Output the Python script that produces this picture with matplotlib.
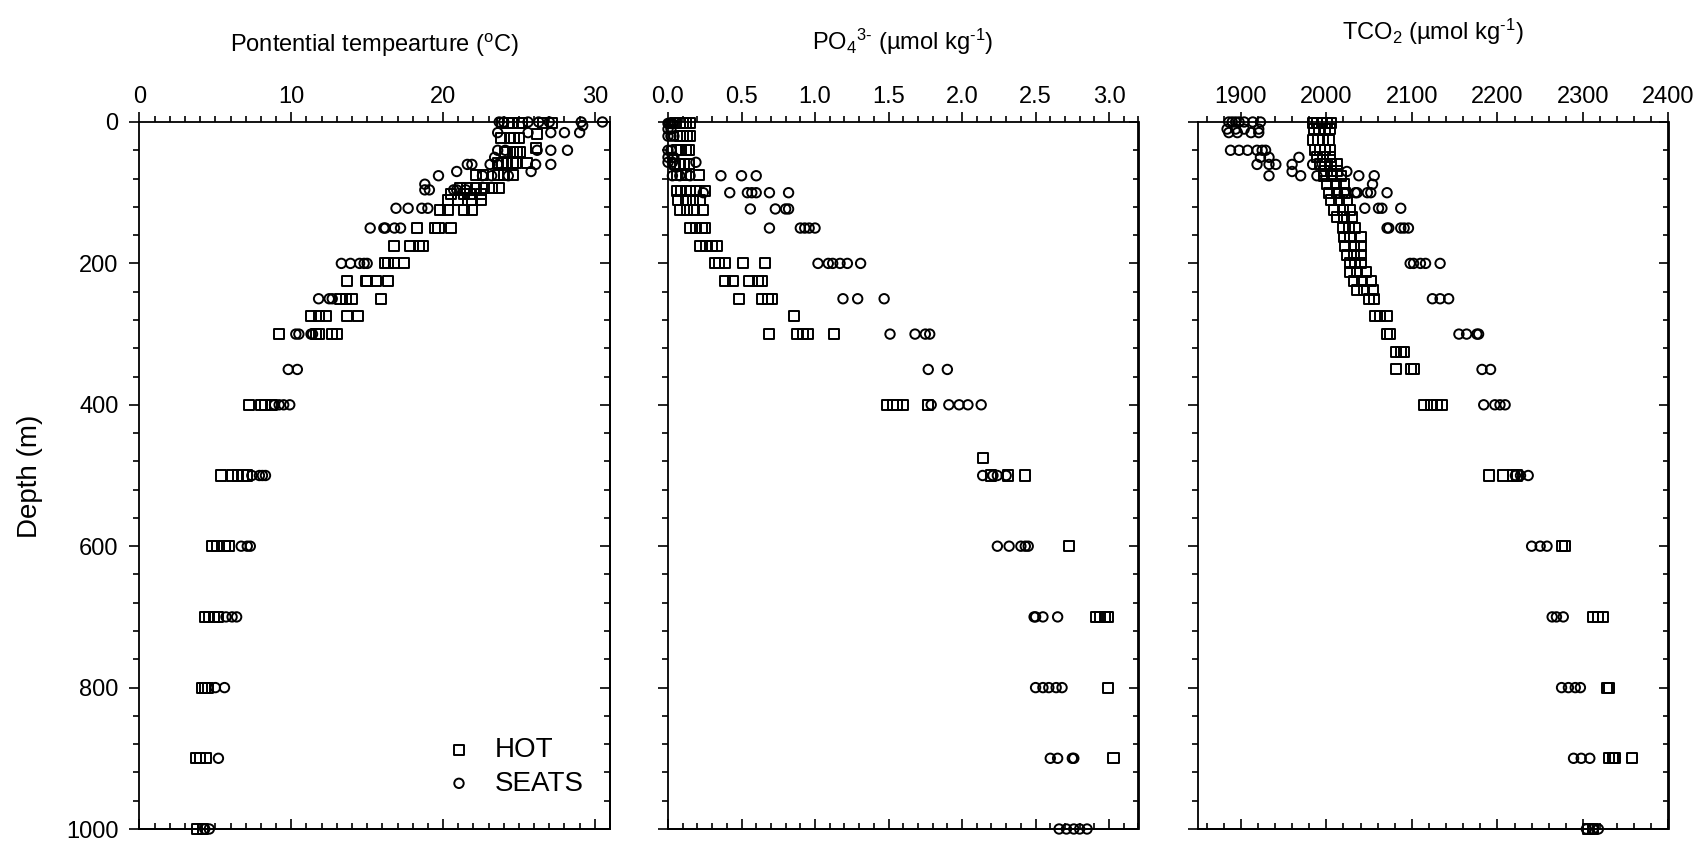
import matplotlib
matplotlib.use("Agg")
import matplotlib.pyplot as plt
from matplotlib.ticker import MultipleLocator

plt.rcParams['font.family'] = ['Liberation Sans', 'DejaVu Sans']
plt.rcParams['mathtext.fontset'] = 'custom'
plt.rcParams['mathtext.rm'] = 'Liberation Sans'
plt.rcParams['mathtext.it'] = 'Liberation Sans:italic'

# --- potential temperature (degC), grouped by depth (m) ---
temp_hot_depth = [2, 17, 22, 37, 43, 58, 75, 93, 102, 110, 125, 150, 175, 200,
                  225, 250, 275, 300, 400, 500, 600, 700, 800, 900, 1000]
temp_hot = [[23.9, 24.3, 24.6, 25.0, 25.2, 26.6, 27.2], [26.2], [23.8, 24.4, 24.7, 25.0],
            [26.1], [24.1, 24.6, 24.9, 25.1], [23.6, 23.9, 24.2, 24.6, 24.8, 25.5],
            [22.2, 22.6, 23.6, 24.0, 24.6], [21.1, 21.6, 22.2, 22.7, 23.2, 23.7],
            [20.5, 21.4, 21.8, 22.5], [20.3, 21.0, 21.9, 22.5], [19.8, 20.3, 21.4, 21.9],
            [18.3, 19.5, 19.7, 20.5], [16.8, 17.8, 18.4, 18.7], [16.2, 16.4, 16.8, 17.4],
            [13.7, 14.9, 15.0, 15.6, 16.4], [13.2, 13.6, 14.0, 15.9],
            [11.3, 11.8, 12.3, 13.7, 14.4], [9.2, 11.6, 11.8, 12.7, 13.0],
            [7.2, 8.0, 8.3, 8.7], [5.4, 6.1, 6.5, 6.8, 7.1], [4.8, 5.1, 5.6, 5.9],
            [4.3, 4.6, 4.9, 5.2], [4.1, 4.3, 4.5], [3.7, 4.0, 4.4], [3.8, 4.2]]
temp_seats_depth = [0, 5, 15, 40, 50, 60, 70, 76, 88, 96, 122, 150, 200, 250,
                    300, 350, 400, 500, 600, 700, 800, 900, 1000]
temp_seats = [[23.7, 24.0, 25.6, 26.3, 27.0, 29.1, 30.5], [29.2], [23.6, 25.6, 27.1, 28.0, 29.0],
              [23.6, 24.1, 26.2, 27.1, 28.2], [23.4], [21.6, 21.9, 23.1, 23.6, 26.1, 27.1],
              [20.9, 25.8], [19.7, 22.6, 23.2, 24.3], [18.8], [18.8, 19.1, 20.7, 20.9, 21.5],
              [16.9, 17.7, 18.6, 19.0], [15.2, 16.1, 16.2, 16.8, 17.2],
              [13.3, 13.9, 14.5, 14.8, 15.0], [11.8, 12.5, 12.7], [10.3, 10.5, 11.3, 11.4],
              [9.8, 10.4], [8.9, 9.2, 9.5, 9.9], [7.4, 7.9, 8.1, 8.3], [6.7, 7.1, 7.3],
              [5.7, 6.1, 6.4], [5.0, 5.6], [5.2], [4.3, 4.6]]

# --- phosphate (umol/kg) ---
po4_hot_depth = [2, 20, 40, 60, 75, 97, 110, 125, 150, 175, 200, 225, 250, 275,
                 300, 400, 475, 500, 600, 700, 800, 900]
po4_hot = [[0.05, 0.08, 0.10, 0.12, 0.15], [0.08, 0.10, 0.13, 0.15], [0.06, 0.09, 0.12, 0.14],
           [0.05, 0.08, 0.11, 0.14], [0.06, 0.09, 0.12, 0.21],
           [0.06, 0.09, 0.12, 0.15, 0.19, 0.25], [0.07, 0.12, 0.17, 0.22],
           [0.08, 0.13, 0.18, 0.24], [0.15, 0.19, 0.23, 0.25], [0.22, 0.26, 0.30, 0.33],
           [0.32, 0.35, 0.39, 0.51, 0.66], [0.39, 0.44, 0.55, 0.61, 0.64],
           [0.48, 0.64, 0.68, 0.71], [0.86], [0.69, 0.88, 0.92, 0.95, 1.13],
           [1.49, 1.53, 1.56, 1.60, 1.77], [2.14], [2.20, 2.31, 2.43], [2.73],
           [2.91, 2.94, 2.97, 2.99], [2.99], [3.03]]
po4_seats_depth = [2, 10, 20, 40, 50, 57, 76, 100, 123, 150, 200, 250, 300, 350,
                   400, 500, 600, 700, 800, 900, 1000]
po4_seats = [[0.0, 0.01, 0.02, 0.03], [0.0, 0.02], [0.0, 0.02, 0.04], [0.0, 0.02],
             [0.0, 0.03, 0.04], [0.0, 0.03, 0.19], [0.03, 0.08, 0.15, 0.36, 0.50, 0.60],
             [0.24, 0.42, 0.54, 0.57, 0.60, 0.69, 0.82], [0.56, 0.73, 0.80, 0.82],
             [0.69, 0.90, 0.93, 0.96, 1.00], [1.02, 1.09, 1.12, 1.17, 1.22, 1.31],
             [1.19, 1.29, 1.47], [1.51, 1.68, 1.75, 1.78], [1.77, 1.90],
             [1.79, 1.91, 1.98, 2.04, 2.13], [2.14, 2.21, 2.24, 2.30],
             [2.24, 2.32, 2.40, 2.43, 2.45], [2.49, 2.50, 2.55, 2.65],
             [2.50, 2.55, 2.59, 2.64, 2.68], [2.60, 2.65, 2.75, 2.76],
             [2.66, 2.71, 2.76, 2.80, 2.85]]

# --- total CO2 (umol/kg) ---
tco2_hot_depth = [2, 10, 25, 40, 50, 60, 70, 76, 88, 100, 110, 125, 135, 150, 163,
                  175, 188, 200, 212, 225, 237, 250, 275, 300, 325, 350, 400, 500,
                  600, 700, 800, 900, 1000]
tco2_hot = [[1984, 1989, 1995, 2001, 2005], [1986, 1992, 1998, 2004], [1984, 1990, 1996, 2003],
            [1987, 1993, 1999, 2004], [1989, 1996, 2004], [1993, 1999, 2005, 2013],
            [1997, 2005, 2013], [1997, 2007, 2017], [2001, 2011, 2021], [2003, 2013, 2022],
            [2005, 2015, 2024], [2009, 2019, 2028], [2013, 2021, 2030], [2019, 2026, 2034],
            [2021, 2028, 2040], [2022, 2032, 2040], [2024, 2032, 2040], [2028, 2034, 2040],
            [2028, 2036, 2046], [2032, 2042, 2052], [2036, 2044, 2054], [2050, 2056],
            [2057, 2063, 2071], [2071, 2075], [2082, 2087, 2091], [2082, 2099, 2103],
            [2114, 2122, 2129, 2135], [2190, 2206, 2218, 2223], [2275, 2279],
            [2312, 2318, 2324], [2328, 2330], [2331, 2335, 2337, 2357], [2306, 2312]]
tco2_seats_depth = [0, 10, 15, 40, 50, 60, 70, 76, 88, 100, 122, 150, 200, 250, 300,
                    350, 400, 500, 600, 700, 800, 900, 1000]
tco2_seats = [[1886, 1890, 1894, 1898, 1904, 1914, 1923], [1884, 1894, 1904, 1921],
              [1886, 1896, 1912, 1921], [1888, 1898, 1908, 1919, 1925, 1929],
              [1923, 1933, 1968], [1919, 1933, 1941, 1960, 1984], [1960, 2024],
              [1933, 1970, 1989, 2038, 2056], [2054],
              [2013, 2021, 2034, 2036, 2048, 2052, 2071], [2045, 2061, 2065, 2087],
              [2071, 2073, 2087, 2091, 2096], [2098, 2102, 2110, 2116, 2133],
              [2124, 2133, 2143], [2155, 2164, 2176, 2178], [2182, 2192],
              [2184, 2197, 2203, 2209], [2221, 2227, 2236], [2240, 2250, 2258],
              [2264, 2269, 2277], [2275, 2283, 2291, 2297], [2289, 2298, 2308],
              [2304, 2312, 2318]]


def flat(depths, groups):
    d, v = [], []
    for z, vals in zip(depths, groups):
        d += [z] * len(vals)
        v += vals
    return d, v


panels = [
    (flat(temp_hot_depth, temp_hot), flat(temp_seats_depth, temp_seats),
     (0, 31), 10, 1, r'Pontential tempearture ($^{\mathrm{o}}$C)', 52),
    (flat(po4_hot_depth, po4_hot), flat(po4_seats_depth, po4_seats),
     (0, 3.2), 0.5, 0.1, r'PO$_4$$^{\text{3-}}$ (µmol kg$^{\text{-1}}$)', 50),
    (flat(tco2_hot_depth, tco2_hot), flat(tco2_seats_depth, tco2_seats),
     (1850, 2400), 100, 20, r'TCO$_2$ (µmol kg$^{\text{-1}}$)', 40),
]
lefts = [139.5, 668, 1198]
W, H = 1706, 844

fig = plt.figure(figsize=(W / 100, H / 100), dpi=100)
axes = []
for i, (hot, seats, xlim, major, minor, title, base_y) in enumerate(panels):
    ax = fig.add_axes([lefts[i] / W, 1 - 829 / H, 470.5 / W, 707 / H])
    ax.scatter(hot[1], hot[0], marker='s', s=52, facecolors='none',
               edgecolors='k', linewidths=1.4, clip_on=False, label='HOT', zorder=3)
    ax.scatter(seats[1], seats[0], marker='o', s=46, facecolors='none',
               edgecolors='k', linewidths=1.4, clip_on=False, label='SEATS', zorder=3)
    ax.set_xlim(*xlim)
    ax.set_ylim(1000, 0)
    for sp in ax.spines.values():
        sp.set_linewidth(1.3)

    ax.xaxis.set_major_locator(MultipleLocator(major))
    ax.xaxis.set_minor_locator(MultipleLocator(minor))
    ax.yaxis.set_major_locator(MultipleLocator(200))
    ax.yaxis.set_minor_locator(MultipleLocator(40))
    if i == 1:
        ax.xaxis.set_major_formatter(lambda x, p: f'{x:.1f}')
    ax.tick_params(axis='x', which='both', top=True, bottom=False, labeltop=True,
                   labelbottom=False, direction='out', labelsize=17, pad=3)
    ax.tick_params(axis='y', which='both', left=True, right=False, direction='out',
                   labelleft=(i == 0), labelsize=17, pad=8)
    ax.tick_params(which='major', length=7, width=1.2)
    ax.tick_params(which='minor', length=4, width=1.2)

    # mirrored ticks pointing inwards on bottom and right
    sx = ax.secondary_xaxis('bottom')
    sx.xaxis.set_major_locator(MultipleLocator(major))
    sx.xaxis.set_minor_locator(MultipleLocator(minor))
    sx.tick_params(which='both', direction='in', labelbottom=False, width=1.2)
    sx.tick_params(which='major', length=7)
    sx.tick_params(which='minor', length=4)
    sx.spines['bottom'].set_linewidth(1.3)
    sy = ax.secondary_yaxis('right')
    sy.yaxis.set_major_locator(MultipleLocator(200))
    sy.yaxis.set_minor_locator(MultipleLocator(40))
    sy.tick_params(which='both', direction='in', labelright=False, width=1.2)
    sy.tick_params(which='major', length=7)
    sy.tick_params(which='minor', length=4)
    sy.spines['right'].set_linewidth(1.3)

    fig.text((lefts[i] + 235) / W, 1 - base_y / H, title, ha='center', va='baseline',
             fontsize=17)
    axes.append(ax)

fig.text(30 / W, 1 - 476 / H, 'Depth (m)', rotation=90, ha='center', va='center',
         fontsize=20)

axes[0].legend(loc='upper left', bbox_to_anchor=(0.62, 0.15), frameon=False,
               fontsize=20, borderpad=0, handlelength=1.0, handletextpad=0.8,
               labelspacing=0.28, scatterpoints=1)

fig.savefig('out.png', dpi=100)
